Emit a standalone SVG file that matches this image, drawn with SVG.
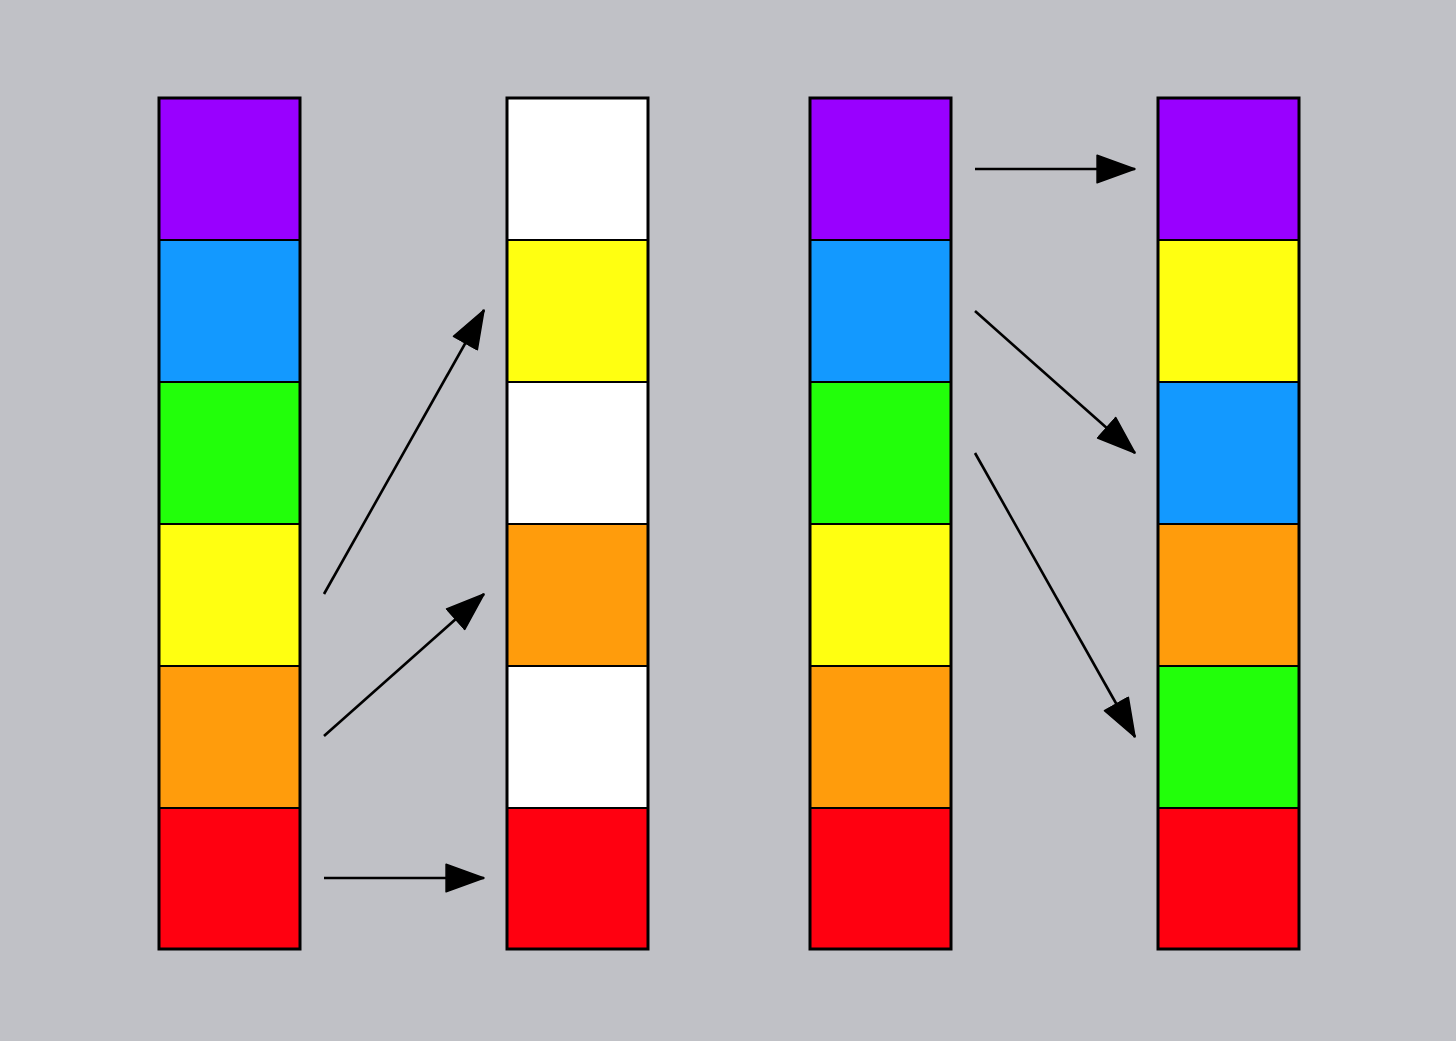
<svg xmlns="http://www.w3.org/2000/svg" width="1456" height="1041" viewBox="0 0 1456 1041">
<style>
.cell{stroke:#000;stroke-width:2}
.frame{fill:none;stroke:#000;stroke-width:3}
.p{fill:#9900FF}.b{fill:#1399FF}.g{fill:#22FF0A}.y{fill:#FFFF11}.o{fill:#FF9C0C}.r{fill:#FF0010}.w{fill:#FFFFFF}
.arr{stroke:#000;stroke-width:2.6;fill:none;marker-end:url(#ah)}
</style>
<defs>
<marker id="ah" markerUnits="userSpaceOnUse" markerWidth="40" markerHeight="30" viewBox="0 0 38 28" refX="37" refY="14" orient="auto">
<path d="M1,1 L37,14 L1,27 Z" fill="#000" stroke="#000" stroke-width="1.5" stroke-linejoin="round"/>
</marker>
</defs>
<rect width="1456" height="1041" fill="#C0C1C6"/>
<g id="col1">
<rect class="cell p" x="159" y="98" width="141" height="142"/>
<rect class="cell b" x="159" y="240" width="141" height="142"/>
<rect class="cell g" x="159" y="382" width="141" height="142"/>
<rect class="cell y" x="159" y="524" width="141" height="142"/>
<rect class="cell o" x="159" y="666" width="141" height="142"/>
<rect class="cell r" x="159" y="808" width="141" height="141"/>
<rect class="frame" x="159" y="98" width="141" height="851"/>
</g>
<g id="col2">
<rect class="cell w" x="507" y="98" width="141" height="142"/>
<rect class="cell y" x="507" y="240" width="141" height="142"/>
<rect class="cell w" x="507" y="382" width="141" height="142"/>
<rect class="cell o" x="507" y="524" width="141" height="142"/>
<rect class="cell w" x="507" y="666" width="141" height="142"/>
<rect class="cell r" x="507" y="808" width="141" height="141"/>
<rect class="frame" x="507" y="98" width="141" height="851"/>
</g>
<g id="col3">
<rect class="cell p" x="810" y="98" width="141" height="142"/>
<rect class="cell b" x="810" y="240" width="141" height="142"/>
<rect class="cell g" x="810" y="382" width="141" height="142"/>
<rect class="cell y" x="810" y="524" width="141" height="142"/>
<rect class="cell o" x="810" y="666" width="141" height="142"/>
<rect class="cell r" x="810" y="808" width="141" height="141"/>
<rect class="frame" x="810" y="98" width="141" height="851"/>
</g>
<g id="col4">
<rect class="cell p" x="1158" y="98" width="141" height="142"/>
<rect class="cell y" x="1158" y="240" width="141" height="142"/>
<rect class="cell b" x="1158" y="382" width="141" height="142"/>
<rect class="cell o" x="1158" y="524" width="141" height="142"/>
<rect class="cell g" x="1158" y="666" width="141" height="142"/>
<rect class="cell r" x="1158" y="808" width="141" height="141"/>
<rect class="frame" x="1158" y="98" width="141" height="851"/>
</g>
<g id="connectors">
<line class="arr" x1="324" y1="594" x2="484" y2="310"/>
<line class="arr" x1="324" y1="736" x2="484" y2="594"/>
<line class="arr" x1="324" y1="878" x2="484" y2="878"/>
<line class="arr" x1="975" y1="169" x2="1135" y2="169"/>
<line class="arr" x1="975" y1="311" x2="1135" y2="453"/>
<line class="arr" x1="975" y1="453" x2="1135" y2="737"/>
</g>
</svg>
